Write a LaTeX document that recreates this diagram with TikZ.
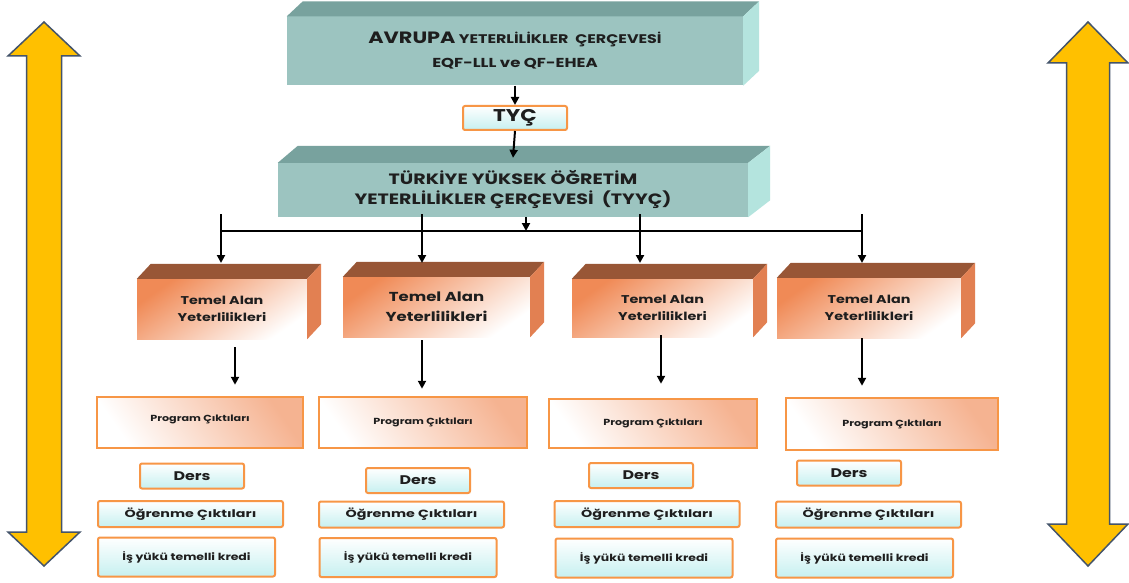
\documentclass[tikz,border=0pt]{standalone}
\usepackage{fontspec}
\setmainfont{Poppins}[FakeStretch=1.27]
\newfontfamily\widefont{Poppins}[FakeStretch=1.36]
\usetikzlibrary{arrows.meta}

\definecolor{tealfront}{RGB}{156,196,192}
\definecolor{tealtop}{RGB}{120,162,158}
\definecolor{tealside}{RGB}{180,228,222}
\definecolor{orfront}{RGB}{240,138,86}
\definecolor{ortop}{RGB}{152,86,54}
\definecolor{orside}{RGB}{226,128,82}
\definecolor{orline}{RGB}{247,150,70}
\definecolor{cyanlight}{RGB}{198,240,240}
\definecolor{arrowfill}{RGB}{255,192,0}
\definecolor{arrowline}{RGB}{68,84,106}
\definecolor{ink}{RGB}{30,30,30}

\tikzset{
  tealbox/.style={fill=tealfront, inner sep=0pt, text=ink, align=center},
  tealtopface/.style={fill=tealtop},
  tealsideface/.style={fill=tealside},
  orbox/.style={inner sep=0pt, top color=orfront, bottom color=white, shading angle=35,
    text=ink, align=center, font=\fontsize{11.3}{17}\selectfont\bfseries},
  ortopface/.style={fill=ortop},
  orsideface/.style={fill=orside},
  outbox/.style={draw=orline, line width=2.5pt, inner sep=0pt,
    top color=orfront!65, bottom color=white, shading angle=-55,
    text=ink, font=\fontsize{8.8}{10}\selectfont\bfseries},
  smallbox/.style={draw=orline, line width=2pt, rounded corners=2pt, inner sep=0pt,
    top color=white, bottom color=cyanlight, text=ink},
  link/.style={line width=2pt, -{Triangle[width=8pt,length=8pt]}},
  busline/.style={line width=2pt},
  bigarrow/.style={fill=arrowfill, draw=arrowline, line width=1.5pt, line join=miter},
}

\begin{document}
\begin{tikzpicture}[x=1pt, y=-1pt]
\useasboundingbox (0,0) rectangle (1129,583);
\fill[white] (0,0) rectangle (1129,583);

% side double arrows
\draw[bigarrow] (44,22) -- (80,56) -- (61.5,56) -- (61.5,532) -- (80,532) -- (44,566)
  -- (8,532) -- (26.5,532) -- (26.5,56) -- (8,56) -- cycle;
\draw[bigarrow] (1088,22) -- (1128,63) -- (1109.5,63) -- (1109.5,524) -- (1128,524) -- (1088,566)
  -- (1048,524) -- (1066.5,524) -- (1066.5,63) -- (1048,63) -- cycle;

% European framework box
\node[tealbox, minimum width=456pt, minimum height=69pt,
      font=\fontsize{12.5}{24}\selectfont\bfseries] (avr) at (515,51)
  {{\fontsize{16.4}{24}\selectfont AVRUPA} YETERLİLİKLER\ \ ÇERÇEVESİ\\{\fontsize{13}{24}\selectfont EQF-LLL ve QF-EHEA}};
\fill[tealtopface] (avr.north west) -- ++(16,-15) -- ([shift={(16,-15)}]avr.north east)
  -- (avr.north east) -- cycle;
\fill[tealsideface] (avr.north east) -- ++(16,-15) -- ([shift={(16,-15)}]avr.south east)
  -- (avr.south east) -- cycle;

% TYC
\node[smallbox, minimum width=104pt, minimum height=24pt,
      font=\fontsize{17}{20}\selectfont\bfseries] (tyc) at (515,118) {TYÇ};

% Turkish framework box
\node[tealbox, minimum width=470pt, minimum height=54pt,
      font=\fontsize{15}{20}\selectfont\bfseries] (tyyc) at (513,190)
  {TÜRKİYE YÜKSEK ÖĞRETİM\\YETERLİLİKLER ÇERÇEVESİ\ \ (TYYÇ)};
\fill[tealtopface] (tyyc.north west) -- ++(20,-17) -- ([shift={(22,-17)}]tyyc.north east)
  -- (tyyc.north east) -- cycle;
\fill[tealsideface] (tyyc.north east) -- ++(22,-17) -- ([shift={(22,-17)}]tyyc.south east)
  -- (tyyc.south east) -- cycle;

\draw[link] (avr.south -| tyc.north) -- (tyc.north);
\draw[link] (tyc.south) -- ([yshift=5pt]tyyc.north);

% field qualification boxes
\node[orbox, minimum width=170pt, minimum height=60pt] (t1) at (222,309) {Temel Alan\\Yeterlilikleri};
\node[orbox, minimum width=187pt, minimum height=60pt,
      font=\fontsize{13}{20}\selectfont\bfseries] (t2) at (436.5,307) {Temel Alan\\Yeterlilikleri};
\node[orbox, minimum width=181pt, minimum height=58pt] (t3) at (662.5,308) {Temel Alan\\Yeterlilikleri};
\node[orbox, minimum width=184pt, minimum height=60pt] (t4) at (869,308) {Temel Alan\\Yeterlilikleri};
\foreach \t in {t1,t2,t3,t4}{
  \fill[ortopface] (\t.north west) -- ++(14,-15) -- ([shift={(14,-15)}]\t.north east)
    -- (\t.north east) -- cycle;
  \fill[orsideface] (\t.north east) -- ++(14,-15) -- ([shift={(14,-15)}]\t.south east)
    -- (\t.south east) -- cycle;
}

% distribution bus
\coordinate (busL) at (221,231);
\coordinate (busR) at (862,231);
\coordinate (busmid) at (526,231);
\draw[busline] (busL) -- (busR);
\draw[link] (tyyc.south -| busmid) -- (busmid);
\foreach \x/\t in {221/t1,422/t2,640/t3,862/t4}{
  \coordinate (top\t) at (\x,214);
  \coordinate (in\t) at (\x,263);
  \draw[link] (top\t) -- (in\t);
}

% program outcome boxes
\node[outbox, minimum width=206pt, minimum height=51pt, text depth=9pt] (p1) at (200,422.5) {Program Çıktıları};
\node[outbox, minimum width=208pt, minimum height=51pt] (p2) at (423,422.5) {Program Çıktıları};
\node[outbox, minimum width=208pt, minimum height=49pt] (p3) at (653,423.5) {Program Çıktıları};
\node[outbox, minimum width=212pt, minimum height=52pt] (p4) at (892,424) {Program Çıktıları};

\draw[link, shorten <=8pt, shorten >=11pt] ([xshift=13pt]t1.south) -- ([xshift=13pt]t1.south |- p1.north);
\draw[link, shorten <=3pt, shorten >=7pt] ([xshift=-14.5pt]t2.south) -- ([xshift=-14.5pt]t2.south |- p2.north);
\draw[link, shorten <=-2pt, shorten >=14pt] ([xshift=-1.5pt]t3.south) -- ([xshift=-1.5pt]t3.south |- p3.north);
\draw[link, shorten <=0pt, shorten >=11pt] ([xshift=-7pt]t4.south) -- ([xshift=-7pt]t4.south |- p4.north);

% course boxes
\tikzset{dersbox/.style={smallbox, minimum width=104pt, minimum height=25pt,
  font=\fontsize{12.5}{15}\selectfont\bfseries}}
\tikzset{ogrbox/.style={smallbox, minimum width=185pt, minimum height=26pt,
  font=\widefont\fontsize{10.5}{12}\selectfont\bfseries}}
\tikzset{kredibox/.style={smallbox, minimum width=177pt, minimum height=39pt,
  font=\fontsize{9.8}{12}\selectfont\bfseries}}

\node[dersbox] (d1) at (192,476) {Ders};
\node[dersbox] (d2) at (418,480.5) {Ders};
\node[dersbox] (d3) at (641,475.5) {Ders};
\node[dersbox] (d4) at (849,473) {Ders};

\node[ogrbox] (o1) at (190.5,514) {Öğrenme Çıktıları};
\node[ogrbox] (o2) at (411.5,514.5) {Öğrenme Çıktıları};
\node[ogrbox] (o3) at (647,514) {Öğrenme Çıktıları};
\node[ogrbox] (o4) at (868.5,514.5) {Öğrenme Çıktıları};

\node[kredibox] (k1) at (186.5,557) {İş yükü temelli kredi};
\node[kredibox] (k2) at (408,557.5) {İş yükü temelli kredi};
\node[kredibox] (k3) at (644,558) {İş yükü temelli kredi};
\node[kredibox] (k4) at (864.5,558) {İş yükü temelli kredi};
\end{tikzpicture}
\end{document}
